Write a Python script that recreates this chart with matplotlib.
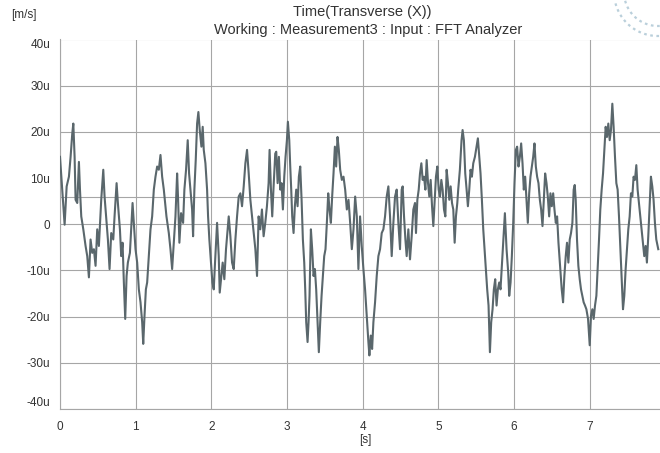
import matplotlib
matplotlib.use('Agg')
import matplotlib.pyplot as plt
import numpy as np

plt.rcParams['font.family'] = ['Liberation Sans', 'DejaVu Sans']

# velocity trace, transverse X channel: time [s] / velocity [um/s]
time_s = [
    0.000, 0.030, 0.061, 0.088, 0.118, 0.140, 0.162, 0.176, 0.193, 0.206,
    0.228, 0.250, 0.264, 0.281, 0.308, 0.338, 0.360, 0.382, 0.404, 0.426,
    0.448, 0.470, 0.492, 0.514, 0.545, 0.572, 0.589, 0.616, 0.633, 0.655,
    0.677, 0.704, 0.721, 0.748, 0.765, 0.792, 0.809, 0.827, 0.844, 0.862,
    0.880, 0.897, 0.924, 0.941, 0.959, 0.976, 0.998, 1.020, 1.042, 1.064,
    1.086, 1.100, 1.117, 1.135, 1.152, 1.174, 1.196, 1.218, 1.240, 1.262,
    1.284, 1.306, 1.328, 1.350, 1.372, 1.407, 1.438, 1.460, 1.482, 1.504,
    1.526, 1.548, 1.561, 1.578, 1.600, 1.627, 1.644, 1.666, 1.688, 1.706,
    1.724, 1.746, 1.759, 1.776, 1.794, 1.812, 1.829, 1.847, 1.869, 1.886,
    1.900, 1.922, 1.944, 1.957, 1.974, 1.996, 2.014, 2.032, 2.049, 2.076,
    2.098, 2.111, 2.133, 2.150, 2.172, 2.194, 2.216, 2.230, 2.252, 2.274,
    2.296, 2.318, 2.340, 2.362, 2.384, 2.406, 2.428, 2.450, 2.472, 2.494,
    2.516, 2.538, 2.560, 2.582, 2.604, 2.625, 2.647, 2.669, 2.691, 2.713,
    2.735, 2.757, 2.770, 2.788, 2.805, 2.823, 2.845, 2.858, 2.876, 2.893,
    2.911, 2.928, 2.946, 2.964, 2.981, 2.999, 3.012, 3.030, 3.043, 3.056,
    3.069, 3.087, 3.104, 3.122, 3.140, 3.157, 3.175, 3.193, 3.210, 3.228,
    3.241, 3.254, 3.272, 3.285, 3.298, 3.316, 3.333, 3.351, 3.369, 3.386,
    3.404, 3.421, 3.439, 3.457, 3.474, 3.492, 3.509, 3.527, 3.545, 3.562,
    3.580, 3.597, 3.615, 3.633, 3.650, 3.668, 3.685, 3.703, 3.725, 3.747,
    3.769, 3.791, 3.813, 3.835, 3.857, 3.879, 3.901, 3.923, 3.944, 3.966,
    3.988, 4.010, 4.032, 4.054, 4.076, 4.089, 4.107, 4.125, 4.142, 4.164,
    4.186, 4.208, 4.230, 4.252, 4.274, 4.296, 4.318, 4.340, 4.362, 4.384,
    4.406, 4.428, 4.450, 4.472, 4.494, 4.516, 4.529, 4.547, 4.565, 4.582,
    4.604, 4.626, 4.648, 4.670, 4.692, 4.705, 4.723, 4.741, 4.758, 4.776,
    4.793, 4.811, 4.829, 4.846, 4.864, 4.881, 4.899, 4.917, 4.934, 4.952,
    4.969, 4.987, 5.005, 5.022, 5.040, 5.057, 5.075, 5.093, 5.110, 5.128,
    5.145, 5.163, 5.181, 5.198, 5.216, 5.233, 5.251, 5.263, 5.285, 5.307,
    5.321, 5.338, 5.356, 5.374, 5.391, 5.409, 5.426, 5.444, 5.462, 5.484,
    5.506, 5.523, 5.541, 5.558, 5.576, 5.594, 5.611, 5.629, 5.646, 5.664,
    5.682, 5.699, 5.717, 5.734, 5.752, 5.770, 5.787, 5.805, 5.822, 5.840,
    5.858, 5.880, 5.902, 5.924, 5.937, 5.955, 5.972, 5.990, 6.007, 6.025,
    6.042, 6.060, 6.078, 6.095, 6.113, 6.130, 6.148, 6.166, 6.183, 6.201,
    6.218, 6.236, 6.254, 6.271, 6.289, 6.306, 6.324, 6.342, 6.359, 6.377,
    6.394, 6.412, 6.430, 6.447, 6.465, 6.482, 6.500, 6.518, 6.535, 6.553,
    6.570, 6.588, 6.613, 6.631, 6.649, 6.666, 6.684, 6.701, 6.719, 6.737,
    6.754, 6.772, 6.789, 6.803, 6.816, 6.833, 6.851, 6.869, 6.886, 6.904,
    6.921, 6.939, 6.957, 6.979, 7.001, 7.018, 7.036, 7.053, 7.071, 7.089,
    7.106, 7.124, 7.141, 7.159, 7.177, 7.194, 7.212, 7.229, 7.247, 7.265,
    7.282, 7.300, 7.317, 7.335, 7.353, 7.370, 7.388, 7.405, 7.423, 7.441,
    7.458, 7.476, 7.493, 7.511, 7.529, 7.546, 7.564, 7.581, 7.599, 7.617,
    7.634, 7.652, 7.669, 7.687, 7.705, 7.722, 7.740, 7.757, 7.775, 7.793,
    7.810, 7.828, 7.845, 7.863, 7.881, 7.907,
]
vel_u = [
    14.6, 7.5, -0.1, 8.2, 10.3, 14.6, 19.6, 21.8, 14.6, 5.3,
    4.6, 13.5, 7.5, 1.7, -1.1, -4.7, -6.9, -11.5, -3.3, -6.2,
    -5.4, -9.0, -1.1, -4.7, 5.3, 11.8, 6.0, 0.3, -3.3, -9.7,
    -1.9, -3.3, 1.7, 8.9, 4.6, -1.1, -6.9, -4.0, -12.6, -20.5,
    -11.2, -8.3, -6.2, -1.1, 4.6, 0.3, -5.4, -8.3, -14.1, -16.9,
    -21.2, -25.9, -19.8, -14.1, -12.6, -6.9, -1.1, 1.7, 7.5, 10.3,
    12.5, 11.8, 15.0, 10.3, 7.5, 1.7, -1.9, -5.4, -9.7, -4.0,
    1.7, 11.0, 5.3, -4.0, 2.4, 0.3, 7.5, 11.8, 18.2, 11.0,
    7.5, 3.2, -2.6, 7.5, 13.9, 21.8, 24.3, 20.4, 16.8, 21.1,
    16.1, 13.2, 7.5, 1.7, -3.3, -8.3, -12.6, -14.1, -8.3, 0.3,
    -6.9, -14.8, -11.2, -8.3, -11.9, -5.4, -1.1, 1.7, -2.6, -8.3,
    -9.7, -3.3, 1.7, 6.0, 6.7, 3.9, 8.2, 13.2, 16.1, 11.0,
    5.3, 1.7, -1.9, -5.4, -11.2, 1.7, -1.1, 3.2, -2.6, 0.3,
    3.9, 8.9, 16.1, 7.5, 1.7, 8.2, 15.3, 15.7, 8.9, 14.6,
    7.5, 8.9, 3.2, 10.3, 14.6, 18.2, 22.2, 18.2, 12.5, 7.5,
    1.7, -1.9, 3.9, 7.5, 3.9, 10.3, 12.5, 5.3, -3.3, -8.3,
    -14.1, -21.2, -25.5, -21.2, -15.5, -1.1, -5.4, -11.2, -9.7, -14.1,
    -21.2, -27.7, -21.2, -15.5, -11.2, -6.9, -5.4, 0.3, 6.7, 3.2,
    0.3, 6.0, 11.0, 16.8, 12.5, 18.9, 16.1, 11.8, 9.6, 10.3,
    7.5, 3.2, 5.3, 0.3, -5.4, -1.1, 6.0, 1.7, -9.7, 1.7,
    -4.7, -9.7, -14.1, -19.8, -25.5, -28.4, -24.1, -27.0, -21.2, -16.9,
    -11.2, -6.9, -5.4, -1.9, -1.1, 1.7, 6.0, 8.2, 1.7, -6.9,
    0.3, 6.0, 7.5, 0.3, -5.4, 7.5, 8.2, 1.7, -3.3, -6.9,
    -1.1, -7.6, -2.6, 3.2, 4.6, -1.9, 5.3, 7.5, 11.0, 13.2,
    9.6, 10.3, 7.5, 13.9, 8.9, 6.0, 9.6, 3.9, -0.4, 5.3,
    10.3, 12.5, 7.5, 6.0, 9.6, 7.5, 3.2, 1.7, 11.8, 8.9,
    5.3, 8.2, 4.6, 3.2, -4.0, 1.7, 4.6, 7.5, 11.8, 18.2,
    20.4, 18.2, 11.0, 7.5, 3.9, 7.5, 11.8, 10.3, 13.2, 14.6,
    16.8, 18.6, 14.6, 11.0, 5.3, -1.1, -5.4, -9.7, -14.1, -17.6,
    -27.7, -21.2, -18.4, -14.1, -11.9, -17.6, -14.1, -12.6, -14.1, -9.0,
    -4.0, 2.4, -5.4, -10.5, -15.5, -12.6, -6.9, 0.3, 8.9, 16.1,
    16.8, 12.5, 14.6, 17.5, 13.2, 7.5, 10.3, 5.3, 0.3, 6.7,
    10.3, 12.5, 14.6, 17.5, 12.5, 10.3, 8.9, 5.3, 3.2, -0.4,
    5.3, 11.0, 8.9, 6.0, 1.7, 6.7, 3.9, 6.7, 3.2, 0.3,
    1.7, -4.0, -9.7, -14.1, -16.9, -11.2, -6.9, -4.0, -8.3, -3.3,
    -1.9, 0.3, 7.5, 8.5, 5.3, -3.3, -9.0, -11.9, -14.1, -15.5,
    -16.9, -17.6, -18.4, -20.5, -26.2, -19.8, -18.4, -20.5, -17.6, -15.5,
    -9.7, -3.3, 3.2, 7.5, 11.0, 16.1, 21.1, 18.9, 21.8, 18.2,
    20.4, 26.1, 21.1, 14.6, 8.9, 7.5, 1.7, -4.7, -11.2, -18.4,
    -15.5, -9.7, -5.4, -1.1, 1.7, 6.7, 6.0, 10.3, 9.6, 12.8,
    7.5, 4.6, 1.7, -1.1, -4.0, -6.9, -4.7, -8.3, -2.6, 3.9,
    10.3, 8.2, 5.3, 0.3, -3.3, -5.4,
]

ref_level = 6
x_ticks = [0, 1, 2, 3, 4, 5, 6, 7]
y_ticks = [-40, -30, -20, -10, 0, 10, 20, 30, 40]
y_ticklabels = ['-40u', '-30u', '-20u', '-10u', '0', '10u', '20u', '30u', '40u']

fig = plt.figure(figsize=(6.6, 4.53), dpi=100)
ax = fig.add_axes([60 / 660, 1 - 409 / 453, 600 / 660, 369.5 / 453])

grid_col = '#a6a6a6'
ax.grid(True, color=grid_col, lw=0.8)
ax.yaxis.get_gridlines()[-1].set_visible(False)   # no line along the top
ax.axhline(ref_level, color=grid_col, lw=0.8)
ax.plot(time_s, vel_u, color='#5a676c', lw=1.5, zorder=3)

ax.set_xlim(0, 7.93)
ax.set_ylim(-40, 40)
ax.set_xticks(x_ticks)
ax.set_yticks(y_ticks)
ax.set_yticklabels(y_ticklabels)
ax.tick_params(length=0, labelsize=8.5, colors='#333333')
ax.tick_params(axis='y', pad=7)
ax.tick_params(axis='x', pad=9)
# keep the edge labels inside the frame
ylab = ax.get_yticklabels()
ylab[0].set_va('bottom')
ylab[-1].set_va('top')

for s in ['top', 'right']:
    ax.spines[s].set_visible(False)
for s in ['left', 'bottom']:
    ax.spines[s].set_color(grid_col)
    ax.spines[s].set_linewidth(0.8)

txt = dict(color='#333333', ha='center', va='center')
fig.text(362 / 660, 1 - 12 / 453, 'Time(Transverse (X))', fontsize=10.5, **txt)
fig.text(368 / 660, 1 - 30 / 453, 'Working : Measurement3 : Input : FFT Analyzer', fontsize=10.5, **txt)
fig.text(24 / 660, 1 - 15 / 453, '[m/s]', fontsize=8.5, **txt)
fig.text(365 / 660, 1 - 440 / 453, '[s]', fontsize=8.5, **txt)

# faint round stamp in the top right corner
th = np.linspace(np.radians(195), np.radians(300), 60)
for r in (34, 44):
    fig.lines.append(plt.Line2D((658 + r * np.cos(th)) / 660, 1 - (-8 - r * np.sin(th)) / 453,
                                transform=fig.transFigure, color='#a9c4d2', lw=1.6,
                                ls=(0, (1.2, 1.6)), alpha=0.8))

fig.savefig('out.png', dpi=100, facecolor='white')
